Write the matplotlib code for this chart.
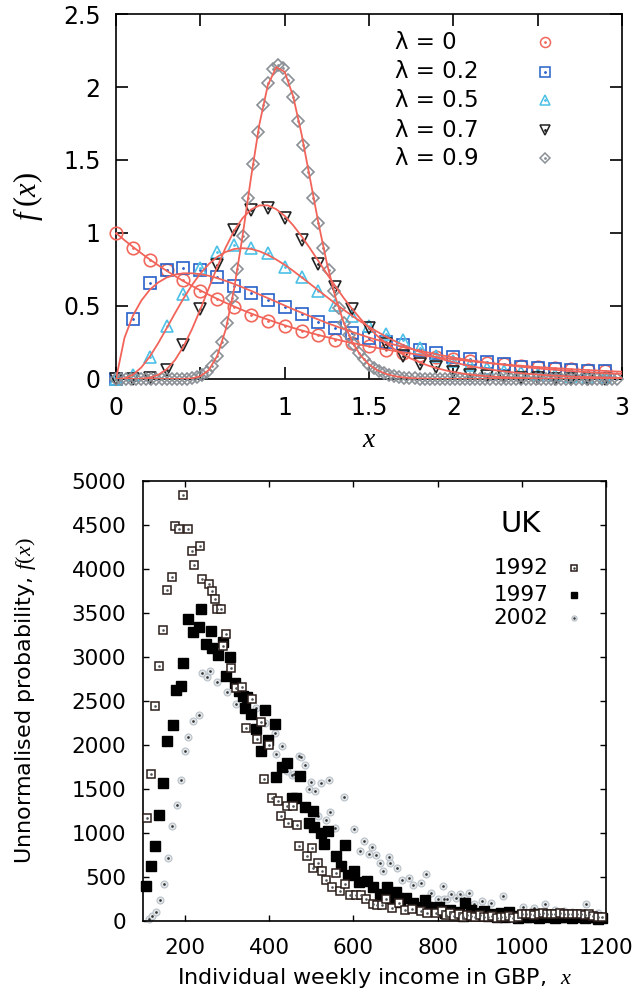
import numpy as np
import matplotlib
matplotlib.use("Agg")
import matplotlib.pyplot as plt

plt.rcParams['font.family'] = ['DejaVu Sans']
plt.rcParams['mathtext.fontset'] = 'custom'
plt.rcParams['mathtext.it'] = 'Liberation Serif:italic'
plt.rcParams['mathtext.rm'] = 'Liberation Serif'

# ---- top panel: f(x) for several lambda ----
lam_labels = ['λ = 0', 'λ = 0.2', 'λ = 0.5', 'λ = 0.7', 'λ = 0.9']

# markers, x = 0, 0.1, ..., 2.9
pts_l0 = [1.0, 0.90, 0.815, 0.745, 0.675, 0.605, 0.55, 0.49, 0.44, 0.395,
          0.365, 0.33, 0.30, 0.27, 0.245, 0.225, 0.20, 0.18, 0.165, 0.15,
          0.135, 0.12, 0.11, 0.10, 0.09, 0.08, 0.075, 0.068, 0.06, 0.055]
pts_l2 = [0.0, 0.41, 0.655, 0.747, 0.758, 0.747, 0.696, 0.637, 0.591, 0.541,
          0.491, 0.443, 0.39, 0.347, 0.313, 0.279, 0.256, 0.233, 0.199, 0.176,
          0.153, 0.134, 0.119, 0.103, 0.084, 0.073, 0.066, 0.06, 0.057, 0.057]
pts_l5 = [0.0, 0.03, 0.15, 0.36, 0.58, 0.76, 0.87, 0.92, 0.895, 0.86,
          0.77, 0.70, 0.60, 0.51, 0.43, 0.36, 0.31, 0.27, 0.21, 0.16,
          0.12, 0.095, 0.075, 0.058, 0.045, 0.034, 0.026, 0.02, 0.015, 0.012]
pts_l7 = [0.0, 0.0, 0.01, 0.06, 0.23, 0.48, 0.78, 1.02, 1.16, 1.17,
          1.10, 0.95, 0.79, 0.63, 0.48, 0.35, 0.24, 0.155, 0.105, 0.08,
          0.045, 0.03, 0.02, 0.012, 0.008, 0.004, 0.003, 0.002, 0.001, 0.001]
# lambda = 0.9 markers, x = 0, 0.03, ..., 2.97
pts_l9 = [0.0] * 14 + [
    0.002, 0.004, 0.011, 0.024, 0.049, 0.091, 0.158, 0.254, 0.385, 0.552,
    0.752, 0.977, 1.24, 1.47, 1.69, 1.88, 2.03, 2.12, 2.15, 2.13,
    2.05, 1.93, 1.77, 1.60, 1.42, 1.24, 1.07, 0.90, 0.745, 0.606,
    0.487, 0.386, 0.301, 0.233, 0.177, 0.134, 0.099, 0.073, 0.053, 0.039,
    0.028, 0.020, 0.014, 0.009, 0.007, 0.005, 0.003, 0.002, 0.001] + [0.0] * 37

# fitted curves, x = 0, 0.05, ..., 3
fit_l0 = [1.000, .951, .905, .861, .819, .779, .741, .705, .670, .638, .607, .577, .549, .522, .497, .472,
          .449, .427, .407, .387, .368, .350, .333, .317, .301, .287, .273, .259, .247, .235, .223, .212,
          .202, .192, .183, .174, .165, .157, .150, .142, .135, .129, .122, .116, .111, .105, .100, .095,
          .091, .086, .082, .078, .074, .071, .067, .064, .061, .058, .055, .052, .050]
fit_l2 = [0.0, .281, .433, .537, .611, .661, .695, .715, .724, .724, .718, .707, .691, .672, .651, .628,
          .604, .579, .554, .529, .503, .478, .454, .430, .407, .384, .363, .342, .322, .303, .284, .267,
          .251, .235, .220, .206, .193, .181, .169, .158, .147, .137, .128, .120, .111, .104, .097, .090,
          .084, .078, .073, .067, .063, .058, .054, .050, .047, .043, .040, .037, .035]
fit_l5 = [0.0, .004, .029, .079, .153, .245, .347, .451, .551, .643, .722, .787, .836, .870, .890, .896,
          .891, .875, .850, .818, .782, .741, .697, .652, .607, .562, .517, .474, .433, .394, .357, .323,
          .291, .261, .234, .209, .186, .165, .147, .130, .115, .101, .089, .078, .069, .060, .052, .046,
          .040, .035, .030, .026, .023, .020, .017, .015, .013, .011, .010, .008, .007]
fit_l7 = [0.0, 0.0, 0.0, .002, .009, .028, .066, .130, .222, .340, .476, .622, .767, .900, 1.014, 1.101,
          1.160, 1.189, 1.189, 1.163, 1.117, 1.053, .978, .895, .808, .721, .636, .555, .480, .411, .350, .294,
          .247, .205, .169, .139, .114, .092, .075, .060, .048, .038, .030, .024, .019, .015, .012, .009,
          .007, .005, .004, .003, .003, .002, .002, .001, .001, .001, .001, 0.0, 0.0]
fit_l9 = [0.0] * 8 + [
    .001, .004, .019, .061, .158, .337, .615, .977, 1.376, 1.744, 2.012, 2.136, 2.104, 1.937, 1.678, 1.374,
    1.069, .794, .564, .386, .254, .161, .099, .059, .035, .020, .011, .006, .003, .002, .001] + [0.0] * 22

# ---- bottom panel: UK income distribution ----
inc_1992 = [110, 118, 128, 138, 148, 156, 170, 175, 186, 195, 206, 216, 221, 236, 241, 256, 263, 271, 275, 285,
            290, 298, 308, 322, 336, 344, 358, 370, 380, 388, 400, 406, 420, 428, 441, 444, 456, 465, 471, 489,
            502, 505, 515, 525, 536, 550, 558, 567, 581, 591, 606, 618, 629, 647, 657, 668, 678, 691, 709, 722,
            740, 760, 775, 796, 810, 820, 830, 840, 850, 860, 870, 880, 890, 900, 910, 920, 930, 940, 950, 960,
            970, 980, 990, 1000, 1010, 1020, 1030, 1040, 1050, 1060, 1070, 1080, 1090, 1100, 1110, 1120, 1130,
            1140, 1150, 1160, 1170, 1180, 1190]
f_1992 = [1170, 1674, 2439, 2902, 3307, 3761, 3905, 4492, 4458, 4845, 4458, 4205, 4042, 4265, 3890, 3830, 3746,
          3655, 3545, 3545, 3121, 3265, 2871, 2648, 2655, 2193, 2527, 2072, 2261, 1617, 1996, 1398, 1367, 1197,
          1303, 1114, 1303, 1095, 849, 739, 826, 598, 655, 572, 466, 390, 542, 345, 420, 295, 295, 295, 250,
          193, 182, 182, 250, 144, 201, 125, 140, 110, 87, 87, 110, 70, 90, 60, 80, 50, 70, 60, 45, 70, 50,
          40, 60, 35, 50, 40, 55, 30, 45, 80, 75, 85, 70, 80, 90, 75, 85, 80, 90, 85, 80, 75, 85, 80, 70, 80,
          60, 50, 40]
inc_1997 = [108, 118, 128, 137, 148, 156, 171, 179, 190, 196, 206, 219, 232, 239, 249, 261, 265, 279, 289, 297,
            307, 319, 329, 337, 343, 348, 356, 368, 380, 390, 396, 413, 416, 430, 442, 454, 464, 474, 484, 494,
            503, 507, 522, 530, 540, 558, 571, 580, 587, 602, 614, 633, 647, 664, 680, 690, 702, 711, 726, 742,
            755, 769, 777, 788, 804, 817, 830, 840, 850, 860, 866, 880, 890, 900, 910, 920, 930, 940, 950, 960,
            970, 980, 990, 1000, 1010, 1020, 1030, 1040, 1050, 1060, 1070, 1080, 1090, 1100, 1110, 1120, 1130,
            1140, 1150, 1160, 1170, 1180, 1190]
f_1997 = [394, 621, 848, 1208, 1568, 2042, 2231, 2621, 2667, 2932, 3436, 3280, 3341, 3545, 3148, 3292, 3102,
          3027, 3170, 2780, 2996, 2705, 2610, 2553, 2420, 2542, 2352, 2186, 1928, 2402, 2061, 2239, 1636, 1746,
          1795, 1398, 1398, 1652, 1299, 1117, 1254, 1072, 996, 875, 1027, 739, 629, 864, 519, 572, 447, 455,
          390, 307, 390, 258, 326, 220, 265, 201, 155, 239, 163, 133, 163, 95, 120, 80, 100, 60, 200, 125, 90,
          70, 110, 60, 80, 50, 90, 40, 100, 60, 30, 70, 50, 40, 80, 30, 60, 45, 70, 35, 50, 40, 60, 30, 45, 55,
          30, 50, 40, 20, 30]
inc_2002 = [114, 122, 130, 140, 150, 160, 170, 180, 190, 199, 208, 219, 233, 241, 251, 260, 277, 300, 320, 340,
            368, 390, 414, 416, 430, 441, 454, 459, 471, 476, 486, 494, 499, 509, 516, 522, 534, 543, 544, 556,
            578, 602, 615, 625, 636, 643, 654, 663, 671, 684, 687, 703, 715, 732, 742, 760, 773, 785, 801, 812,
            814, 823, 831, 843, 853, 862, 874, 887, 906, 928, 956, 1003, 1029, 1056, 1080, 1100, 1120, 1153, 1180]
f_2002 = [27, 60, 102, 242, 420, 716, 1076, 1314, 1606, 1928, 2094, 2276, 2341, 2818, 2773, 2841, 2720, 2600,
          2462, 2440, 2420, 2250, 2133, 1898, 1985, 1708, 1663, 1670, 1871, 1867, 1773, 1496, 1583, 1477, 1193,
          1572, 1148, 1602, 1235, 1053, 1413, 1049, 799, 913, 761, 837, 750, 655, 572, 723, 655, 598, 466, 485,
          409, 428, 534, 322, 250, 398, 250, 250, 303, 258, 307, 258, 314, 193, 230, 201, 286, 163, 144, 193,
          120, 110, 100, 193, 95]
years = ['1992', '1997', '2002']

fig = plt.figure(figsize=(6.36, 10.01), dpi=100)

# ================= top panel =================
ax = fig.add_axes([0.1824, 0.6214, 0.7956, 0.3646])
x_pts = np.arange(30) * 0.1
x_pts9 = np.arange(100) * 0.03
x_fit = np.linspace(0, 3, 61)

red = '#f2645a'
styles = [
    (pts_l0, x_pts, 'o', '#f2675c', 9.0),
    (pts_l2, x_pts, 's', '#2660c8', 8.4),
    (pts_l5, x_pts, '^', '#4cc0e6', 8.6),
    (pts_l7, x_pts, 'v', '#222222', 8.6),
    (pts_l9, x_pts9, 'D', '#8a9096', 5.8),
]
for vals, xs, mk, col, ms in styles:
    ax.plot(xs, vals, ls='none', marker=mk, ms=ms, mfc='none', mec=col, mew=1.2,
            clip_on=False, zorder=3)
    ax.plot(xs, vals, ls='none', marker='.', ms=2.0, color=col, clip_on=False, zorder=3)

for fit in [fit_l0, fit_l2, fit_l5, fit_l7, fit_l9]:
    ax.plot(x_fit, fit, color=red, lw=1.3, zorder=4)

# key: text on the left, marker sample on the right
key_rows = [0.923, 0.842, 0.764, 0.682, 0.605]
for (vals, xs, mk, col, ms), lab, yk in zip(styles, lam_labels, key_rows):
    ax.text(0.551, yk, lab, transform=ax.transAxes, fontsize=16.5, ha='left', va='center')
    ax.plot([0.848], [yk], transform=ax.transAxes, ls='none', marker=mk, ms=ms * 0.8,
            mfc='none', mec=col, mew=1.1, clip_on=False)
    ax.plot([0.848], [yk], transform=ax.transAxes, ls='none', marker='.', ms=2.0,
            color=col, clip_on=False)

ax.set_xlim(0, 3)
ax.set_ylim(0, 2.5)
ax.set_xticks([0, 0.5, 1, 1.5, 2, 2.5, 3])
ax.set_xticklabels(['0', '0.5', '1', '1.5', '2', '2.5', '3'])
ax.set_yticks([0, 0.5, 1, 1.5, 2, 2.5])
ax.set_yticklabels(['0', '0.5', '1', '1.5', '2', '2.5'])
ax.tick_params(direction='in', length=8.5, width=1.2, labelsize=17, top=True, right=True)
ax.tick_params(axis='x', pad=12)
ax.tick_params(axis='y', pad=11)
for s in ax.spines.values():
    s.set_linewidth(1.2)
ax.set_xlabel('$x$', fontsize=20, labelpad=4)
ax.set_ylabel(r'$f\;(x)$', fontsize=22, labelpad=13)

# ================= bottom panel =================
bx = fig.add_axes([0.2248, 0.0799, 0.728, 0.4396])

st_2002 = dict(ls='none', marker='o', ms=5.0, mfc='#e4e8eb', mec='#b9c1c8', mew=0.8)
st_1997 = dict(ls='none', marker='s', ms=6.6, color='black')
st_1992 = dict(ls='none', marker='s', ms=5.8, mfc='white', mec='#2a1d1a', mew=1.1)

bx.plot(inc_2002, f_2002, clip_on=False, zorder=2, **st_2002)
bx.plot(inc_2002, f_2002, ls='none', marker='.', ms=1.8, color='#333333', clip_on=False, zorder=2)
bx.plot(inc_1997, f_1997, clip_on=False, zorder=3, **st_1997)
bx.plot(inc_1992, f_1992, clip_on=False, zorder=4, **st_1992)
bx.plot(inc_1992, f_1992, ls='none', marker='.', ms=1.8, color='#555555', clip_on=False, zorder=4)

bx.set_xlim(100, 1200)
bx.set_ylim(0, 5000)
bx.set_xticks(range(200, 1201, 200))
bx.set_yticks(range(0, 5001, 500))
bx.tick_params(direction='in', length=4.5, width=1.0, labelsize=15.5, top=True, right=True, pad=12)
for s in bx.spines.values():
    s.set_linewidth(1.2)
bx.set_xlabel('Individual weekly income in GBP,  $x$', fontsize=16, labelpad=6)
bx.set_ylabel('Unnormalised probability, $f(x)$', fontsize=16, labelpad=24)

bx.text(0.816, 0.902, 'UK', transform=bx.transAxes, fontsize=21, ha='center', va='center')
year_rows = [0.802, 0.741, 0.689]
for lab, yk, st in zip(years, year_rows, [st_1992, st_1997, st_2002]):
    bx.text(0.875, yk, lab, transform=bx.transAxes, fontsize=15.5, ha='right', va='center')
    kst = dict(st)
    kst['ms'] = st['ms'] * 0.75
    bx.plot([0.931], [yk], transform=bx.transAxes, clip_on=False, **kst)
    if st is not st_1997:
        bx.plot([0.931], [yk], transform=bx.transAxes, ls='none', marker='.', ms=1.5,
                color='#333333', clip_on=False)

fig.savefig('out.png', dpi=100)
